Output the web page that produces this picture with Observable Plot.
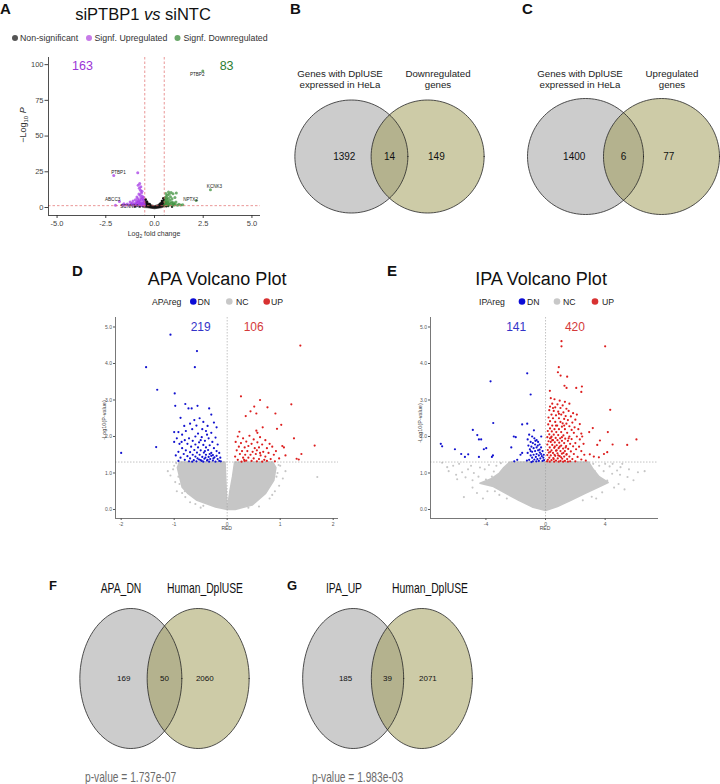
<!DOCTYPE html>
<html>
<head>
<meta charset="utf-8">
<script src="https://cdn.jsdelivr.net/npm/d3@7"></script>
<script src="https://cdn.jsdelivr.net/npm/@observablehq/plot@0.6"></script>
<style>
  body { margin: 0; background: #fff; }
  #fig { position: relative; width: 720px; height: 784px; overflow: hidden; background: #fff; }
</style>
</head>
<body>
<div id="fig"></div>
<script>
const FONT = "'Liberation Sans', Arial, Helvetica, sans-serif";

// ---------------- Panel A: siPTBP1 vs siNTC (log2 fold change, -log10 P) ----------------
const aSignfUp = [
  [-0.52,1.5],[-0.55,2.1],[-0.53,2.8],[-0.58,3.4],[-0.54,4.1],[-0.6,1.8],[-0.62,2.6],[-0.57,5.0],[-0.65,3.1],
  [-0.68,1.6],[-0.7,2.2],[-0.72,4.0],[-0.66,5.6],[-0.6,6.3],[-0.75,3.0],[-0.78,1.9],[-0.8,2.7],[-0.84,3.6],
  [-0.88,1.5],[-0.92,2.4],[-0.56,7.2],[-0.63,7.8],[-0.7,6.8],[-0.76,5.2],[-0.82,4.6],[-0.9,4.2],[-0.95,3.3],
  [-1.0,1.9],[-1.05,2.6],[-1.1,1.6],[-1.15,3.0],[-0.86,6.1],[-0.74,8.6],[-0.8,9.5],[-0.67,10.2],[-0.9,7.3],
  [-0.98,5.4],[-1.2,2.2],[-1.3,1.8],[-1.4,2.4],[-1.25,3.8],[-1.5,1.5],[-0.72,12.0],[-0.78,13.4],[-0.7,14.6],
  [-0.76,16.8],[-0.84,15.5],[-0.64,11.4],[-0.86,24.3],[-2.09,22.4],[-1.8,4.2],[-1.57,2.6],[-1.65,1.8],
  [-2.0,1.6],[-1.1,4.6]
];
const aSignfDown = [
  [0.52,1.6],[0.55,2.3],[0.58,3.1],[0.53,4.0],[0.6,1.9],[0.62,2.8],[0.65,3.6],[0.57,5.0],[0.68,4.4],[0.7,1.5],
  [0.72,2.5],[0.75,3.3],[0.63,6.0],[0.55,6.8],[0.6,7.7],[0.7,6.4],[0.78,5.2],[0.8,2.0],[0.85,2.9],[0.88,4.0],
  [0.92,1.6],[0.95,2.6],[0.66,8.6],[0.75,9.3],[0.82,7.5],[0.9,6.1],[0.98,3.4],[1.02,1.8],[1.06,2.4],[1.1,3.9],
  [1.18,1.6],[1.25,2.2],[1.35,1.7],[1.45,2.0],[0.58,9.8],[0.85,10.5],[0.95,9.6],[1.05,7.0],[1.12,10.2],
  [0.72,10.9],[2.14,4.9],[2.87,12.4],[2.48,95.6]
];
const aNonSigCore = [
  [-0.55,0.2],[-0.52,6.0],[-0.42,4.6],[-0.3,3.2],[-0.16,1.9],[0,1.3],[0.16,2.0],[0.3,3.4],[0.42,5.2],
  [0.52,7.2],[0.56,0.8],[0.35,-0.2],[0,-0.9],[-0.35,-0.2]
];
const aNonSig = [
  [-0.45,5.6],[0.45,6.5],[-0.38,4.1],[0.38,4.6],[0.6,0.9],[-0.6,0.8],[0.7,1.0],[-0.75,0.7],[0.9,0.6],
  [-1.0,0.9],[0.3,2.7],[-0.25,2.4]
];
const aGenes = ["PTBP2", "PTBP1", "KCNK3", "NPTX2", "ABCC3", "SCNN1A"];
const aGeneX = [2.19, -1.85, 3.08, 1.85, -2.15, -1.28];
const aGeneY = [93, 24.5, 14.7, 5.6, 5.6, 0.7];
const aCounts = [163, 83];
const aTicksX = [-5, -2.5, 0, 2.5, 5];
const aTicksY = [0, 25, 50, 75, 100];

// ---------------- Panel D: APA volcano (RED, -log10 P) ----------------
const apaDN = [
  [-1.07,4.79],[-0.57,4.34],[-1.53,3.90],[-0.61,3.90],[-1.32,3.28],[-0.99,3.18],[-0.98,2.84],[-0.79,2.89],
  [-0.73,2.77],[-0.67,2.77],[-0.56,2.84],[-0.34,2.77],[-0.30,2.60],[-0.88,2.51],[-0.81,2.29],[-1.0,2.12],
  [-0.92,2.12],[-1.0,1.85],[-1.34,1.71],[-2.0,1.55],[-0.37,2.29],[-0.20,2.25],
  [-0.62,2.45],[-0.52,2.5],[-0.45,2.4],[-0.7,2.35],[-0.58,2.3],[-0.25,2.38],[-0.47,2.2],[-0.66,2.2],
  [-0.78,2.15],[-0.4,2.15],[-0.3,2.1],[-0.55,2.08],[-0.85,2.05],[-0.6,2.0],[-0.48,1.98],[-0.35,1.95],
  [-0.22,1.97],[-0.72,1.95],[-0.8,1.9],[-0.65,1.88],[-0.42,1.88],[-0.28,1.85],[-0.53,1.84],[-0.9,1.8],
  [-0.75,1.8],[-0.6,1.78],[-0.45,1.77],[-0.33,1.76],[-0.18,1.78],[-0.68,1.72],[-0.55,1.7],[-0.4,1.7],
  [-0.25,1.68],[-0.85,1.68],[-0.78,1.62],[-0.62,1.63],[-0.5,1.62],[-0.36,1.63],[-0.2,1.6],[-0.92,1.58],
  [-0.7,1.57],[-0.57,1.56],[-0.44,1.56],[-0.3,1.55],[-0.15,1.55],[-0.82,1.52],[-0.65,1.5],[-0.52,1.5],
  [-0.4,1.5],[-0.27,1.49],[-0.2,1.47],[-0.75,1.46],[-0.6,1.45],[-0.47,1.44],[-0.35,1.44],[-0.24,1.43],
  [-0.13,1.42],[-0.88,1.42],[-0.7,1.4],[-0.56,1.4],[-0.43,1.39],[-0.32,1.38],[-0.18,1.38],[-0.8,1.36],
  [-0.63,1.35],[-0.5,1.35],[-0.38,1.34],[-0.27,1.34],[-0.15,1.33],[-0.92,1.33],[-0.72,1.32],[-0.58,1.32],
  [-0.45,1.31],[-0.34,1.31],[-0.22,1.31],[-0.12,1.32],[-0.66,1.31],[-0.53,1.37],[-0.41,1.42],[-0.3,1.47],
  [-0.37,1.36],[-0.48,1.33],[-0.26,1.4],[-0.33,1.52],[-0.42,1.6],[-0.5,1.9],[-0.38,2.05],[-0.95,1.95],
  [-0.97,1.48],[-0.86,1.85]
];
const apaUP = [
  [1.38,4.49],[0.26,3.1],[0.62,3.0],[1.21,2.88],[0.51,2.82],[0.76,2.80],[0.44,2.69],[0.55,2.63],[0.35,2.56],
  [0.91,2.63],[0.67,2.25],[1.02,2.32],[0.23,2.13],[0.55,2.16],[0.57,2.1],[0.94,2.21],[1.26,1.95],[1.65,1.75],
  [1.40,1.52],[1.1,1.48],[1.04,1.74],[1.07,1.70],[1.31,1.39],[1.35,1.37],
  [0.2,2.0],[0.3,1.95],[0.42,2.02],[0.5,1.92],[0.62,1.98],[0.72,1.9],[0.16,1.85],[0.26,1.82],[0.36,1.86],
  [0.46,1.8],[0.57,1.84],[0.66,1.78],[0.8,1.8],[0.22,1.72],[0.33,1.7],[0.4,1.74],[0.52,1.68],[0.6,1.7],
  [0.75,1.68],[0.85,1.72],[0.18,1.62],[0.28,1.6],[0.38,1.6],[0.48,1.58],[0.56,1.62],[0.68,1.58],[0.78,1.55],
  [0.24,1.52],[0.34,1.5],[0.44,1.5],[0.54,1.52],[0.63,1.48],[0.72,1.45],[0.88,1.5],[0.15,1.45],[0.3,1.42],
  [0.4,1.42],[0.5,1.4],[0.6,1.38],[0.7,1.36],[0.82,1.38],[0.2,1.36],[0.36,1.34],[0.46,1.33],[0.56,1.32],
  [0.66,1.31],[0.75,1.33],[0.9,1.32],[0.27,1.31],[0.98,1.4],[0.32,1.36],[0.33,1.33],[0.92,1.6],[0.62,1.55]
];
const apaNcLeft = [
  [-0.9,1.3],[-0.04,1.3],[-0.02,0.6],[0,0],[-0.22,0.07],[-0.57,0.25],[-0.75,0.45],[-0.85,0.61],[-0.9,0.9],[-0.94,1.15]
];
const apaNcRight = [
  [0.14,1.3],[0.86,1.3],[0.92,1.15],[0.88,0.8],[0.72,0.43],[0.47,0.12],[0.15,0.0],[0,0],[0.05,0.5],[0.1,0.9]
];
const apaNc = [
  [-1.07,0.93],[-0.79,0.34],[1.7,0.89],[-0.95,0.5],[-1.0,1.2],[-0.98,0.75],[-0.7,0.2],[-0.85,0.45],[0.95,1.0],
  [1.0,1.2],[0.98,0.65],[0.8,0.3],[0.6,0.08],[-0.45,0.1],[1.05,0.85],[-1.12,1.05],[-0.92,0.9],[0.9,0.5],
  [0.75,1.25],[-0.6,0.15],[-1.02,1.1],[-0.96,1.27],[0.97,1.22],[0.93,0.9],[-0.9,0.7],[0.85,0.4],[-0.8,0.5],
  [-0.5,0.05],[0.4,0.05],[1.1,1.05]
];
const apaCounts = [219, 106];

// ---------------- Panel E: IPA volcano (RED, -log10 P) ----------------
const ipaDN = [
  [-1.23,3.73],[-3.69,3.51],[-1.0,3.15],[-3.51,2.37],[-1.57,2.33],[-1.23,2.35],[-4.88,2.18],[-4.58,2.04],
  [-4.47,1.92],[-4.32,1.92],[-0.78,2.17],[-0.29,2.0],[-2.13,2.0],[-2.0,1.98],[-7.03,1.8],[-6.94,1.73],
  [-6.08,1.65],[-5.66,1.52],[-5.19,1.51],[-5.41,1.44],[-4.47,1.44],[-4.14,1.65],[-3.98,1.68],[-3.6,1.44],
  [-3.53,1.48],[-1.68,1.5],[-1.57,1.55],[-2.1,1.32],[-1.9,1.36],[-2.3,1.7],
  [-1.1,2.05],[-0.9,2.0],[-0.75,1.95],[-1.2,1.92],[-0.6,1.9],[-1.0,1.85],[-0.85,1.82],[-0.5,1.85],[-0.7,1.78],
  [-1.15,1.75],[-0.4,1.78],[-0.95,1.72],[-0.6,1.7],[-0.8,1.68],[-0.3,1.7],[-1.05,1.65],[-0.5,1.62],[-0.7,1.6],
  [-0.9,1.58],[-0.2,1.6],[-0.38,1.56],[-1.2,1.55],[-0.6,1.52],[-0.8,1.5],[-1.0,1.48],[-0.45,1.48],[-0.25,1.46],
  [-0.65,1.44],[-0.9,1.42],[-0.15,1.42],[-0.35,1.4],[-0.55,1.38],[-0.75,1.37],[-1.1,1.36],[-0.45,1.33],
  [-0.2,1.33],[-0.62,1.32],[-0.85,1.32],[-1.25,1.34],[-0.3,1.52],[-0.52,1.75],[-0.68,1.88],[-1.0,1.6],
  [-0.4,1.64],[-0.1,1.35],[-0.95,1.3],[-0.12,1.5]
];
const ipaUP = [
  [1.07,4.61],[1.07,4.47],[4.0,4.47],[0.89,3.9],[0.83,3.76],[1.01,3.67],[1.45,3.64],[1.27,3.39],[1.41,3.33],
  [2.06,3.33],[2.44,3.37],[2.4,3.22],[0.29,3.25],[4.34,2.73],[3.17,2.23],[2.93,2.12],[4.18,2.12],[3.65,1.89],
  [3.47,1.77],[4.5,1.78],[6.1,1.92],[5.48,1.77],[2.46,2.0],[3.92,1.52],[4.14,1.57],[3.24,1.45],[2.97,1.51],
  [3.58,1.43],
  [0.35,3.05],[0.6,3.02],[0.95,2.98],[1.3,2.95],[0.45,2.9],[0.8,2.88],[1.15,2.85],[1.6,2.9],[0.3,2.82],
  [0.65,2.8],[1.0,2.78],[1.4,2.76],[0.25,2.72],[0.55,2.7],[0.85,2.68],[1.2,2.66],[1.55,2.7],[1.85,2.64],
  [0.4,2.6],[0.7,2.58],[1.05,2.6],[1.35,2.56],[1.7,2.55],[2.1,2.6],[0.2,2.52],[0.5,2.5],[0.9,2.5],[1.25,2.48],
  [1.5,2.45],[2.0,2.46],[0.3,2.42],[0.65,2.4],[1.0,2.4],[1.15,2.36],[1.4,2.35],[1.8,2.38],[2.3,2.34],
  [0.18,2.33],[0.45,2.3],[0.78,2.3],[1.1,2.27],[1.6,2.28],[1.95,2.25],[0.3,2.22],[0.6,2.2],[0.9,2.2],
  [1.3,2.2],[2.2,2.2],[1.75,2.18],[0.15,2.15],[0.42,2.14],[0.72,2.12],[1.05,2.12],[1.45,2.1],[1.9,2.1],
  [2.4,2.08],[0.25,2.06],[0.55,2.05],[0.85,2.04],[1.2,2.03],[1.6,2.0],[2.1,2.0],[0.12,1.98],[0.38,1.97],
  [0.68,1.96],[0.98,1.95],[1.32,1.94],[1.75,1.93],[2.3,1.92],[0.5,1.9],[0.8,1.9],[1.1,1.88],[1.5,1.88],
  [0.2,1.87],[0.35,1.85],[0.62,1.84],[0.92,1.83],[1.25,1.82],[1.65,1.8],[2.0,1.82],[2.55,1.8],[0.12,1.78],
  [0.45,1.77],[0.75,1.76],[1.05,1.75],[1.38,1.74],[1.85,1.73],[2.25,1.72],[0.28,1.7],[0.58,1.69],[0.88,1.68],
  [1.18,1.67],[1.52,1.66],[2.05,1.65],[0.15,1.63],[0.4,1.62],[0.7,1.61],[1.0,1.6],[1.3,1.6],[1.7,1.59],
  [2.4,1.6],[0.22,1.56],[0.5,1.55],[0.8,1.54],[1.1,1.53],[1.42,1.52],[1.9,1.52],[2.6,1.5],[0.12,1.49],
  [0.35,1.48],[0.65,1.47],[0.95,1.46],[1.25,1.45],[1.6,1.45],[2.15,1.44],[0.25,1.42],[0.52,1.41],[0.82,1.4],
  [1.12,1.39],[1.45,1.38],[1.8,1.38],[2.4,1.37],[0.15,1.36],[0.4,1.35],[0.7,1.34],[1.0,1.33],[1.3,1.33],
  [1.65,1.32],[2.0,1.32],[0.28,1.31],[0.58,1.31],[0.88,1.31],[1.18,1.31],[1.5,1.31],[2.7,1.34],[0.1,1.32],
  [0.45,1.9],[0.62,1.72],[0.95,1.72],[1.35,1.7],[0.32,1.58],[0.75,1.62],[1.2,1.55],[0.55,1.38],[1.05,1.43],
  [0.4,2.0],[0.7,2.3],[1.25,2.3],[0.9,2.62],[0.5,2.78],[1.1,1.98],[1.55,1.95],[0.85,1.48],[0.3,1.95],
  [1.4,1.5],[0.6,1.5]
];
const ipaNcCore = [
  [-2.4,1.3],[2.9,1.3],[3.2,1.1],[3.6,0.9],[4.2,0.74],[3.6,0.62],[2.7,0.45],[1.7,0.25],[0.8,0.08],
  [0,-0.03],[-0.9,0.07],[-1.8,0.25],[-2.7,0.45],[-3.5,0.63],[-4.4,0.72],[-3.6,0.85],[-3.1,1.0],[-2.8,1.15]
];
const ipaNc = [
  [-6.94,1.28],[-6.6,1.16],[-6.5,1.05],[-5.93,0.83],[-5.37,0.88],[-4.81,1.0],[-4.08,1.1],[-3.47,1.04],
  [-5.48,0.34],[-6.2,1.2],[-5.0,1.2],[-4.5,0.9],[-3.8,1.22],[-3.6,0.9],[-4.9,0.6],[-3.9,0.5],[-3.1,0.4],
  [-5.2,1.1],[-6.0,0.95],[-4.2,0.3],[-4.4,1.15],[-3.3,1.2],[-4.0,0.82],[-5.6,1.02],[-2.6,0.3],[-3.4,0.5],
  [-4.6,0.45],[-3.0,1.27],[-4.9,0.8],[-5.8,1.25],
  [5.6,1.1],[6.2,1.02],[6.65,1.05],[5.15,1.25],[5.03,1.16],[5.5,0.89],[4.47,0.98],[4.14,0.79],[3.47,0.66],
  [3.8,0.47],[4.8,1.07],[3.6,1.2],[4.0,1.25],[3.3,1.05],[4.6,0.6],[5.9,0.8],[3.4,0.3],[4.3,1.18],[2.9,0.5],
  [5.3,0.55],[3.9,1.05],[4.5,1.25],[3.1,0.35],[4.9,0.7],[3.5,0.85],[2.5,0.25],[5.0,0.95],[3.2,1.25]
];
const ipaCounts = [141, 420];

// ---------------- Venn diagrams ----------------
const vennBSets = ["Genes with DplUSE\nexpressed in HeLa", "Downregulated\ngenes"];
const vennBCounts = [1392, 14, 149];
const vennCSets = ["Genes with DplUSE\nexpressed in HeLa", "Upregulated\ngenes"];
const vennCCounts = [1400, 6, 77];
const vennFSets = ["APA_DN", "Human_DplUSE"];
const vennFCounts = [169, 50, 2060];
const vennFPval = "1.737e-07";
const vennGSets = ["IPA_UP", "Human_DplUSE"];
const vennGCounts = [185, 39, 2071];
const vennGPval = "1.983e-03";

// ---------------- drawing helpers ----------------
const fig = document.getElementById("fig");
function place(el, left, top) {
  el.style.position = "absolute";
  el.style.left = left + "px";
  el.style.top = top + "px";
  fig.appendChild(el);
}
const px = d => d[0], py = d => d[1];

// ---------- Panel A ----------
{
  const xd = [-5.44, 5.44], yd = [-5.6, 105];
  const genes = aGenes.map((g, i) => ({g, x: aGeneX[i], y: aGeneY[i]}));
  const plot = Plot.plot({
    width: 270, height: 190, marginLeft: 48, marginRight: 10, marginTop: 7, marginBottom: 25,
    style: {fontFamily: FONT, fontSize: "7.5px", color: "#444", background: "none", overflow: "visible"},
    x: {domain: xd, ticks: aTicksX, tickFormat: d => d.toFixed(1), tickSize: 3, tickPadding: 2, label: null},
    y: {domain: yd, ticks: aTicksY, tickSize: 3.5, tickPadding: 1.5, label: null},
    marks: [
      Plot.line(aNonSigCore, {x: px, y: py, fill: "#111", stroke: "#111", strokeWidth: 0.6, curve: "linear-closed"}),
      Plot.dot(aNonSig, {x: px, y: py, r: 1.2, fill: "#111"}),
      Plot.dot(aSignfUp, {x: px, y: py, r: 1.5, fill: "#a53be6", fillOpacity: 0.75}),
      Plot.dot(aSignfDown, {x: px, y: py, r: 1.5, fill: "#40913f", fillOpacity: 0.75}),
      Plot.ruleX([-0.5, 0.5], {stroke: "#e06a6a", strokeWidth: 0.7, strokeDasharray: "2.5,2"}),
      Plot.ruleY([1.3], {stroke: "#e06a6a", strokeWidth: 0.7, strokeDasharray: "2.5,2"}),
      Plot.ruleX([xd[0]], {stroke: "#222", strokeWidth: 0.8}),
      Plot.ruleY([yd[0]], {stroke: "#222", strokeWidth: 0.8}),
      Plot.text(genes, {x: "x", y: "y", text: "g", fontSize: 4.6, fill: "#222"}),
      Plot.text([aCounts[0]], {x: () => -3.7, y: () => 99, text: d => String(d), fontSize: 12.5, fill: "#9b35d6"}),
      Plot.text([aCounts[1]], {x: () => 3.7, y: () => 99, text: d => String(d), fontSize: 12.5, fill: "#2e7d32"})
    ]
  });
  place(plot, 0, 50);
}

// ---------- volcano D / E ----------
function volcano({left, marginRight, xd, ticks, dn, up, ncShapes, nc, counts, countX}) {
  const yd = [-0.247, 5.26];
  const shapes = ncShapes.map(s => Plot.line(s, {x: px, y: py, fill: "#c6c6c6", stroke: "#c6c6c6", strokeWidth: 1.5, curve: "linear-closed"}));
  const plot = Plot.plot({
    width: 290, height: 230, marginLeft: 55, marginRight, marginTop: 7, marginBottom: 22,
    style: {fontFamily: FONT, fontSize: "5px", color: "#555", background: "none", overflow: "visible"},
    x: {domain: xd, ticks, tickFormat: d => String(d), tickSize: 2, tickPadding: 1.5, label: null},
    y: {domain: yd, ticks: [0, 1, 2, 3, 4, 5], tickSize: 2, tickPadding: 1.5, label: null},
    marks: [
      ...shapes,
      Plot.dot(nc, {x: px, y: py, r: 1.05, fill: "#c6c6c6"}),
      Plot.ruleX([0], {stroke: "#9a9a9a", strokeWidth: 0.6, strokeDasharray: "1.5,1.5"}),
      Plot.ruleY([1.3], {stroke: "#9a9a9a", strokeWidth: 0.6, strokeDasharray: "1.5,1.5"}),
      Plot.dot(dn, {x: px, y: py, r: 1.1, fill: "#1212cf"}),
      Plot.dot(up, {x: px, y: py, r: 1.1, fill: "#dd1e1e"}),
      Plot.ruleX([xd[0]], {stroke: "#555", strokeWidth: 0.8}),
      Plot.ruleY([yd[0]], {stroke: "#555", strokeWidth: 0.8}),
      Plot.text([counts[0]], {x: () => -countX, y: () => 4.99, text: d => String(d), fontSize: 12, fill: "#3434c8"}),
      Plot.text([counts[1]], {x: () => countX, y: () => 4.99, text: d => String(d), fontSize: 12, fill: "#d43a3a"})
    ]
  });
  place(plot, left, 310);
}
volcano({left: 60, marginRight: 12, xd: [-2.107, 2.1], ticks: [-2, -1, 0, 1, 2], dn: apaDN, up: apaUP,
  ncShapes: [apaNcLeft, apaNcRight], nc: apaNc, counts: apaCounts, countX: 0.5});
volcano({left: 375, marginRight: 7, xd: [-7.72, 7.58], ticks: [-4, 0, 4], dn: ipaDN, up: ipaUP,
  ncShapes: [ipaNcCore], nc: ipaNc, counts: ipaCounts, countX: 1.97});

// ---------- Venn diagrams ----------
const ring = d3.range(0, 361, 3).map(a => [Math.cos(a * Math.PI / 180), Math.sin(a * Math.PI / 180)]);
function venn(counts, {cx, cy, rx, ry, sep, w, h, fontSize, lx}) {
  const hx = w / 2 / rx, hy = h / 2 / ry;
  const L = ring.map(([x, y]) => [x - sep / 2, y]);
  const R = ring.map(([x, y]) => [x + sep / 2, y]);
  const labels = counts.map((c, i) => ({c, x: lx[i]}));
  const plot = Plot.plot({
    width: w, height: h, margin: 0,
    style: {fontFamily: FONT, background: "none", overflow: "visible"},
    x: {domain: [-hx, hx], axis: null},
    y: {domain: [-hy, hy], axis: null},
    marks: [
      Plot.line(L, {x: px, y: py, fill: "#999999", fillOpacity: 0.5, stroke: "none", curve: "linear-closed"}),
      Plot.line(R, {x: px, y: py, fill: "#9b974f", fillOpacity: 0.5, stroke: "none", curve: "linear-closed"}),
      Plot.line(L, {x: px, y: py, stroke: "#262626", strokeWidth: 0.8, curve: "linear-closed"}),
      Plot.line(R, {x: px, y: py, stroke: "#262626", strokeWidth: 0.8, curve: "linear-closed"}),
      Plot.text(labels, {x: "x", y: () => 0, text: d => String(d.c), fontSize, fill: "#111"})
    ]
  });
  place(plot, cx - w / 2, cy - h / 2);
}
venn(vennBCounts, {cx: 389, cy: 156, rx: 56.5, ry: 56.5, sep: 1.35, w: 220, h: 124, fontSize: 10, lx: [-0.8, 0, 0.83]});
venn(vennCCounts, {cx: 623, cy: 155.5, rx: 58, ry: 58, sep: 1.31, w: 194, h: 124, fontSize: 10, lx: [-0.85, 0, 0.78]});
venn(vennFCounts, {cx: 163.75, cy: 678, rx: 51, ry: 70, sep: 1.32, w: 122, h: 150, fontSize: 8, lx: [-0.8, 0, 0.79]});
venn(vennGCounts, {cx: 386.75, cy: 678, rx: 50.5, ry: 70, sep: 1.36, w: 122, h: 150, fontSize: 8, lx: [-0.83, 0, 0.8]});

// ---------- titles, legends, panel letters ----------
const ov = d3.create("svg").attr("width", 720).attr("height", 784)
  .style("position", "absolute").style("left", "0px").style("top", "0px")
  .style("pointer-events", "none").style("font-family", FONT);
fig.appendChild(ov.node());

function T(x, y, s, o = {}) {
  const t = ov.append("text")
    .attr("transform", `translate(${x},${y})${o.rot ? ` rotate(${o.rot})` : ""}${o.sx ? ` scale(${o.sx},1)` : ""}`)
    .attr("text-anchor", o.anchor || "start")
    .attr("font-size", o.size || 10)
    .attr("fill", o.color || "#111");
  if (o.weight) t.attr("font-weight", o.weight);
  if (typeof s === "string") t.text(s);
  else s.forEach(p => {
    const sp = t.append("tspan").text(p.t);
    if (p.italic) sp.attr("font-style", "italic");
    if (p.size) sp.attr("font-size", p.size);
    if (p.dy) sp.attr("dy", p.dy);
  });
  return t;
}
function dotKey(x, y, r, color) {
  ov.append("circle").attr("cx", x).attr("cy", y).attr("r", r).attr("fill", color);
}

// Panel letters
T(0, 13.5, "A", {size: 15, weight: "bold"});
T(290, 14, "B", {size: 15, weight: "bold"});
T(522, 14, "C", {size: 15, weight: "bold"});
T(72, 276, "D", {size: 15, weight: "bold"});
T(387, 276, "E", {size: 15, weight: "bold"});
T(49, 590, "F", {size: 13, weight: "bold"});
T(287, 590, "G", {size: 13, weight: "bold"});

// Panel A title, legend and axis titles
T(143, 19.5, [{t: "siPTBP1 "}, {t: "vs", italic: true}, {t: " siNTC"}], {size: 16.5, anchor: "middle"});
dotKey(15, 38, 3, "#555555");
T(20, 41, "Non-significant", {size: 8.8, color: "#333"});
dotKey(89, 38, 3, "#c77be8");
T(94.5, 41, "Signf. Upregulated", {size: 8.8, color: "#333"});
dotKey(177.5, 38, 3, "#6aa86a");
T(183.5, 41, "Signf. Downregulated", {size: 8.8, color: "#333"});
T(26, 125, [{t: "\u2212Log"}, {t: "10", size: 6, dy: 2}, {t: " ", dy: -2}, {t: "P", italic: true}], {size: 9, rot: -90, anchor: "middle", color: "#333"});
T(154, 236, [{t: "Log"}, {t: "2", size: 5, dy: 1.5}, {t: " fold change", dy: -1.5}], {size: 7, anchor: "middle", color: "#333"});

// Panels B / C set names
function setName(x, y, label) {
  label.split("\n").forEach((line, i) => T(x, y + i * 11, line, {size: 9.7, anchor: "middle", color: "#222"}));
}
setName(340, 76.5, vennBSets[0]);
setName(438, 76.5, vennBSets[1]);
setName(580, 76.5, vennCSets[0]);
setName(672, 76.5, vennCSets[1]);

// Panels D / E titles, legends and axis titles
function volcanoHead(cx, title, key, keyX, dots, labs) {
  T(cx, 285, title, {size: 18, anchor: "middle", color: "#111"});
  T(keyX, 304.5, key, {size: 8.7, color: "#222"});
  const cols = ["#0c0cd6", "#c8c8c8", "#d83232"];
  ["DN", "NC", "UP"].forEach((s, i) => {
    dotKey(dots[i], 301.5, 3.3, cols[i]);
    T(labs[i], 304.5, s, {size: 8.7, color: "#222"});
  });
}
volcanoHead(217, "APA Volcano Plot", "APAreg", 152, [193.3, 229.3, 266.7], [197.5, 236, 271]);
volcanoHead(541, "IPA Volcano Plot", "IPAreg", 479, [522, 557, 595], [527, 563, 602]);
T(105.5, 420, "-Log10(P-value)", {size: 5.5, rot: -90, anchor: "middle", color: "#444"});
T(422, 423, "-Log10(P-value)", {size: 5.5, rot: -90, anchor: "middle", color: "#444"});
T(226.7, 530, "RED", {size: 5, anchor: "middle", color: "#444"});
T(545, 530, "RED", {size: 5, anchor: "middle", color: "#444"});

// Panels F / G set names and p-values
T(121, 593, vennFSets[0], {size: 14, anchor: "middle", sx: 0.74, color: "#111"});
T(205, 593, vennFSets[1], {size: 14, anchor: "middle", sx: 0.74, color: "#111"});
T(344, 593, vennGSets[0], {size: 14, anchor: "middle", sx: 0.74, color: "#111"});
T(430, 593, vennGSets[1], {size: 14, anchor: "middle", sx: 0.74, color: "#111"});
T(85, 782, "p-value = " + vennFPval, {size: 14, sx: 0.73, color: "#6b6b6b"});
T(312, 782, "p-value = " + vennGPval, {size: 14, sx: 0.73, color: "#6b6b6b"});
</script>
</body>
</html>
